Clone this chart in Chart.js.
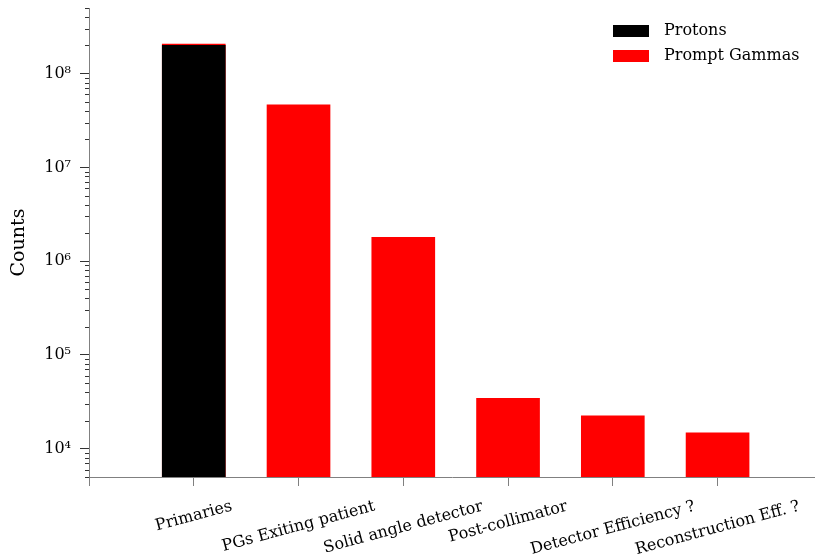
<!DOCTYPE html>
<html>
<head>
<meta charset="utf-8">
<script src="https://cdn.jsdelivr.net/npm/chart.js@4.4.0/dist/chart.umd.min.js"></script>
<style>
    html, body { margin: 0; padding: 0; background: #fff; }
</style>
</head>
<body>
<canvas id="countsChart" width="815" height="558"></canvas>
<script>
const categories = ['Primaries', 'PGs Exiting patient', 'Solid angle detector', 'Post-collimator', 'Detector Efficiency ?', 'Reconstruction Eff. ?'];
const protons = [2.0e8, null, null, null, null, null];
const promptGammas = [2.06e8, 4.65e7, 1.8e6, 3.45e4, 2.25e4, 1.48e4];
const yMin = 5e3;
const yMax = 5e8;

const FONT = '"DejaVu Serif", serif';
const SUP = '⁰¹²³⁴⁵⁶⁷⁸⁹';

const isMajor = v => Math.abs(Math.log10(v) - Math.round(Math.log10(v))) < 1e-9;
const powLabel = v => '10' + String(Math.round(Math.log10(v))).split('').map(d => SUP[+d]).join('');

// minor ticks on the log axis are shorter than the decade ticks
const minorTicks = {
    id: 'minorTicks',
    afterDraw(chart) {
        const ys = chart.scales.y;
        const ctx = chart.ctx;
        ctx.save();
        ctx.strokeStyle = '#333';
        ctx.lineWidth = 1;
        ctx.beginPath();
        ys.ticks.forEach(t => {
            if (isMajor(t.value)) return;
            const y = Math.round(ys.getPixelForValue(t.value)) + 0.5;
            ctx.moveTo(ys.right - 4, y);
            ctx.lineTo(ys.right, y);
        });
        ctx.stroke();
        ctx.restore();
    }
};

// tilted category labels, centred under each tick
const tiltedLabels = {
    id: 'tiltedLabels',
    afterDraw(chart) {
        const xs = chart.scales.x;
        const ctx = chart.ctx;
        const angle = 15 * Math.PI / 180;
        ctx.save();
        ctx.font = '16px ' + FONT;
        ctx.fillStyle = '#000';
        ctx.textAlign = 'center';
        ctx.textBaseline = 'middle';
        categories.forEach((label, i) => {
            const w = ctx.measureText(label).width;
            const boxH = w * Math.sin(angle) + 19 * Math.cos(angle);
            const cx = xs.getPixelForValue(i + 1);
            const cy = xs.top + 20 + boxH / 2;
            ctx.save();
            ctx.translate(cx, cy);
            ctx.rotate(-angle);
            ctx.fillText(label, 0, 0);
            ctx.restore();
        });
        ctx.restore();
    }
};

// legend in the upper right corner of the plot area
const cornerLegend = {
    id: 'cornerLegend',
    afterDraw(chart) {
        const ctx = chart.ctx;
        const left = chart.chartArea.right - 202;
        ctx.save();
        ctx.font = '16px ' + FONT;
        ctx.textBaseline = 'middle';
        chart.data.datasets.forEach((ds, i) => {
            const y = chart.chartArea.top + 23 + i * 25;
            ctx.fillStyle = ds.backgroundColor;
            ctx.fillRect(left, y - 6, 36, 12);
            ctx.fillStyle = '#000';
            ctx.fillText(ds.label, left + 51, y);
        });
        ctx.restore();
    }
};

const toPoints = arr => arr.map((v, i) => ({ x: i + 1, y: v })).filter(p => p.y !== null);

new Chart(document.getElementById('countsChart').getContext('2d'), {
    type: 'bar',
    data: {
        datasets: [
            {
                label: 'Protons',
                data: toPoints(protons),
                backgroundColor: '#000000',
                barThickness: 63,
                grouped: false
            },
            {
                label: 'Prompt Gammas',
                data: toPoints(promptGammas),
                backgroundColor: '#ff0000',
                barThickness: 63,
                grouped: false
            }
        ]
    },
    options: {
        responsive: false,
        animation: false,
        layout: { padding: { top: 8, right: 0, bottom: 0, left: 0 } },
        plugins: {
            legend: { display: false },
            tooltip: { enabled: false }
        },
        scales: {
            x: {
                type: 'linear',
                min: 0,
                max: 6.93,
                offset: false,
                afterBuildTicks: scale => {
                    scale.ticks = [0, 1, 2, 3, 4, 5, 6].map(v => ({ value: v }));
                },
                ticks: { callback: () => '', autoSkip: false, maxRotation: 0 },
                grid: { drawOnChartArea: false, offset: false, tickLength: 9, tickColor: '#808080' },
                border: { color: '#808080' },
                afterFit: s => { s.height = 81; s.paddingLeft = 0; s.paddingRight = 0; }
            },
            y: {
                type: 'logarithmic',
                min: yMin,
                max: yMax,
                afterBuildTicks: scale => {
                    const ticks = [];
                    for (let e = 3; e <= 8; e++) {
                        for (let m = 1; m <= 9; m++) {
                            const v = m * Math.pow(10, e);
                            if (v >= yMin && v <= yMax) ticks.push({ value: v });
                        }
                    }
                    scale.ticks = ticks;
                },
                title: {
                    display: true,
                    text: 'Counts',
                    color: '#000',
                    font: { family: FONT, size: 19 },
                    padding: { top: 8, bottom: 0 }
                },
                ticks: {
                    autoSkip: false,
                    padding: 9,
                    color: '#000',
                    font: { family: FONT, size: 16 },
                    callback: v => isMajor(v) ? powLabel(v) : ''
                },
                grid: {
                    drawOnChartArea: false,
                    tickLength: 9,
                    tickColor: c => (c.tick && isMajor(c.tick.value)) ? '#333' : 'rgba(0,0,0,0)'
                },
                border: { color: '#808080' },
                afterFit: s => { s.width = 89; s.paddingTop = 0; s.paddingBottom = 0; }
            }
        }
    },
    plugins: [minorTicks, tiltedLabels, cornerLegend]
});
</script>
</body>
</html>
